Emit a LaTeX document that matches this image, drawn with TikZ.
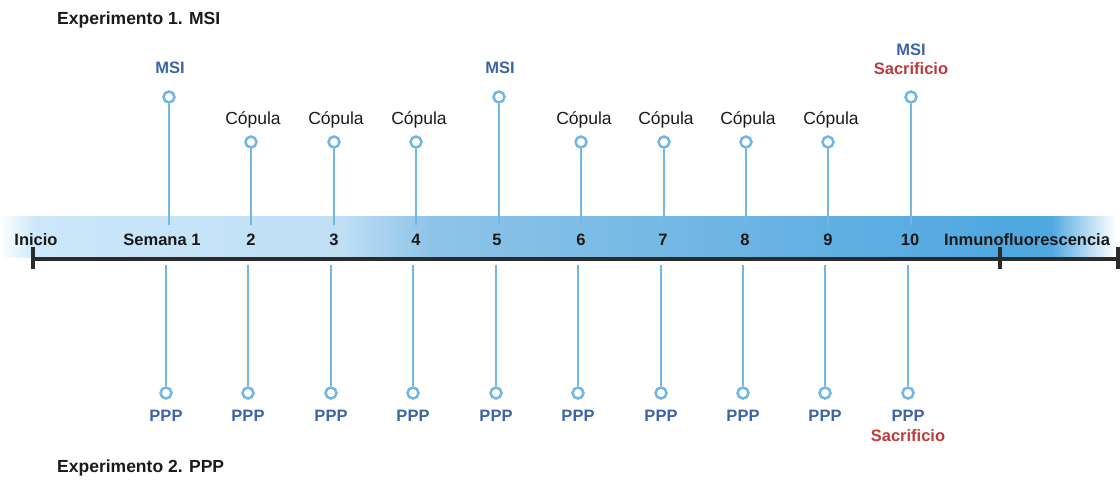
\documentclass[tikz,border=0pt]{standalone}
\usepackage{fontspec}
\setmainfont{Liberation Sans}
\definecolor{stemc}{HTML}{72B6E3}
\definecolor{bluet}{HTML}{3C64A8}
\definecolor{redt}{HTML}{C0393B}
\definecolor{blackt}{HTML}{1A1A1A}
\definecolor{axisc}{HTML}{2B2B2B}
\definecolor{bA}{HTML}{CCE7FA}
\definecolor{bB}{HTML}{C0DFF5}
\definecolor{bC}{HTML}{8EC4E8}
\definecolor{bD}{HTML}{50A8E1}
\pgfdeclarehorizontalshading{bandshade}{100bp}{color(0bp)=(white); color(25bp)=(white); color(26.6bp)=(bA); color(40.2bp)=(bB); color(44.2bp)=(bC); color(69.6bp)=(bD); color(71.9bp)=(bD); color(74.8bp)=(white); color(100bp)=(white)}
\begin{document}
\begin{tikzpicture}[x=1pt,y=-1pt,
  stem/.style={draw=stemc,line width=2.9pt},
  dot/.style={circle,draw=stemc,fill=white,line width=2.5pt,minimum size=11pt,inner sep=0pt},
  lblue/.style={text=bluet,font=\bfseries\fontsize{16.5}{18}\selectfont,anchor=base},
  lred/.style={text=redt,font=\bfseries\fontsize{16.5}{18}\selectfont,anchor=base},
  lcop/.style={text=blackt,font=\fontsize{17.5}{19}\selectfont,anchor=base},
  laxis/.style={text=blackt,font=\bfseries\fontsize{16.5}{18}\selectfont,anchor=base},
  ltitle/.style={text=blackt,font=\bfseries\fontsize{17.5}{19}\selectfont,anchor=base west,inner sep=0pt},
  axisline/.style={draw=axisc,line width=3.2pt},
]
\useasboundingbox (0,0) rectangle (1120,480);
% band
\shade[shading=bandshade] (0,216) rectangle (1120,257);
% axis
\coordinate (a0) at (33,259);
\coordinate (a1) at (1000,259);
\coordinate (a2) at (1118,259);
\draw[axisline] (a0) -- (a2);
\foreach \n in {a0,a1,a2} \draw[axisline] ([yshift=-10pt]\n) -- ([yshift=12pt]\n);
% titles
\node[ltitle] (t1) at (57,24) {Experimento 1. MSI};
\node[ltitle] (t2) at (57,472) {Experimento 2. PPP};
% axis labels
\node[laxis] (l0) at (36,245) {Inicio};
\node[laxis] (l1) at (162,245) {Semana 1};
\foreach \x/\t in {251/2,334/3,416/4,497/5,581/6,663/7,745/8,828/9,910/10}
  \node[laxis] (l\t) at (\x,245) {\t};
\node[laxis] (lend) at (1027,245) {Inmunofluorescencia};
% upper stems
\foreach \i/\x/\y in {1/169/97,2/251/142,3/334/142,4/416/142,5/499/97,6/581/142,7/664/142,8/746/142,9/828/142,10/911/97} {
  \coordinate (ub\i) at (\x,225);
  \node[dot] (u\i) at (\x,\y) {};
  \draw[stem] (ub\i) -- (u\i.south);
}
% upper labels
\node[lblue] (m1) at (170,73) {MSI};
\node[lblue] (m5) at (500,73) {MSI};
\node[lblue] (m10) at (911,55) {MSI};
\node[lred] (s10) at (911,74) {Sacrificio};
\foreach \i/\x in {2/253,3/336,4/419,6/584,7/666,8/748,9/831}
  \node[lcop] (c\i) at (\x,124) {Cópula};
% lower stems
\foreach \i/\x in {1/166,2/248,3/331,4/413,5/496,6/578,7/661,8/743,9/825,10/908} {
  \coordinate (lb\i) at (\x,265);
  \node[dot] (d\i) at (\x,393) {};
  \draw[stem] (lb\i) -- (d\i.north);
  \node[lblue] (p\i) at (\x,421) {PPP};
}
\node[lred] (s10b) at (908,441) {Sacrificio};
\end{tikzpicture}
\end{document}
